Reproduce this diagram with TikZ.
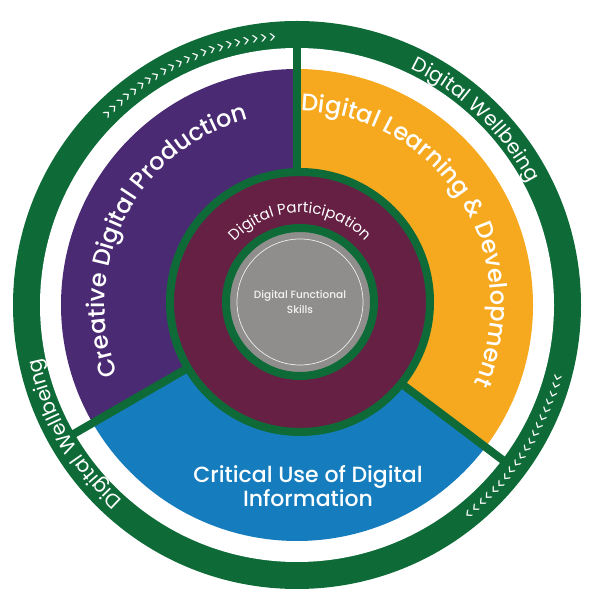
\documentclass[tikz,border=0pt]{standalone}
\usepackage{fontspec}
\setmainfont{Poppins}[BoldFont={Poppins Medium}]
\usetikzlibrary{decorations.text}
\definecolor{wheelgreen}{HTML}{0E6B38}
\definecolor{wheelpurple}{HTML}{4A2A73}
\definecolor{wheelorange}{HTML}{F6A91F}
\definecolor{wheelblue}{HTML}{157DBE}
\definecolor{wheelmaroon}{HTML}{652044}
\definecolor{wheelgrey}{HTML}{8F8E8C}
\tikzset{divider/.style={draw=wheelgreen,line width=8pt},
         ringtext/.style={decoration={text along path,text align=center,text={#1}},decorate}}
\newcommand{\wtxt}[1]{\fontsize{#1}{#1}\selectfont\color{white}}

\begin{document}
\begin{tikzpicture}[x=1pt,y=1pt]
        \useasboundingbox (0,0) rectangle (600,600);
        \coordinate (c) at (297,295);
        \coordinate (ci) at (300,298);
        % outer band
        \fill[wheelgreen] (c) circle (284);
        \fill[white] (c) circle (257);
        % sectors
        \fill[wheelpurple] (c) -- ++(90:236) arc[start angle=90,end angle=210,radius=236] -- cycle;
        \fill[wheelorange] (c) -- ++(-37:236) arc[start angle=-37,end angle=90,radius=236] -- cycle;
        \fill[wheelblue] (c) -- ++(210:236) arc[start angle=210,end angle=323,radius=236] -- cycle;
        \draw[divider] (c) -- ++(90:258);
        \draw[divider] (c) -- ++(210:258);
        \draw[divider] (c) -- ++(-37:258);
        % inner rings
        \fill[wheelmaroon,draw=wheelgreen,line width=8pt] (ci) circle (130);
        \fill[wheelgrey,draw=wheelgreen,line width=8pt] (ci) circle (74);
        \draw[white!85!wheelgrey,line width=0.7pt] (ci) circle (63);
        % ring texts
        \path[ringtext={|\wtxt{20}|Digital Wellbeing}] (c) ++(86:262) arc[start angle=86,end angle=6,radius=262];
        \path[ringtext={|\wtxt{20}|Digital Wellbeing}] (c) ++(250:262) arc[start angle=250,end angle=170,radius=262];
        \path[ringtext={|\wtxt{16}|>>>>>>>>>>>>>>>>>>>>>>}] (c) ++(155:263) arc[start angle=155,end angle=75,radius=263];
        \path[ringtext={|\wtxt{16}|<<<<<<<<<<<<<<<<<<<<}] (c) ++(-72:277) arc[start angle=-72,end angle=6,radius=277];
        % segment texts
        \path[ringtext={|\wtxt{24}\bfseries|Creative Digital Production}] (c) ++(258:192) arc[start angle=258,end angle=48,radius=192];
        \path[ringtext={|\wtxt{24}\bfseries|Digital Learning {\&} Development}] (c) ++(130:194) arc[start angle=130,end angle=-65,radius=194];
        \node[text=white,font=\fontsize{22}{24}\selectfont\bfseries,align=center] (crit) at (308,114) {Critical Use of Digital\\Information};
        \path[ringtext={|\wtxt{15}|Digital Participation}] (ci) ++(175:89) arc[start angle=175,end angle=5,radius=89];
        \node[text=white!90!wheelgrey,font=\fontsize{10.5}{15}\selectfont\bfseries,align=center] (func) at (ci) {Digital Functional\\Skills};
\end{tikzpicture}
\end{document}
